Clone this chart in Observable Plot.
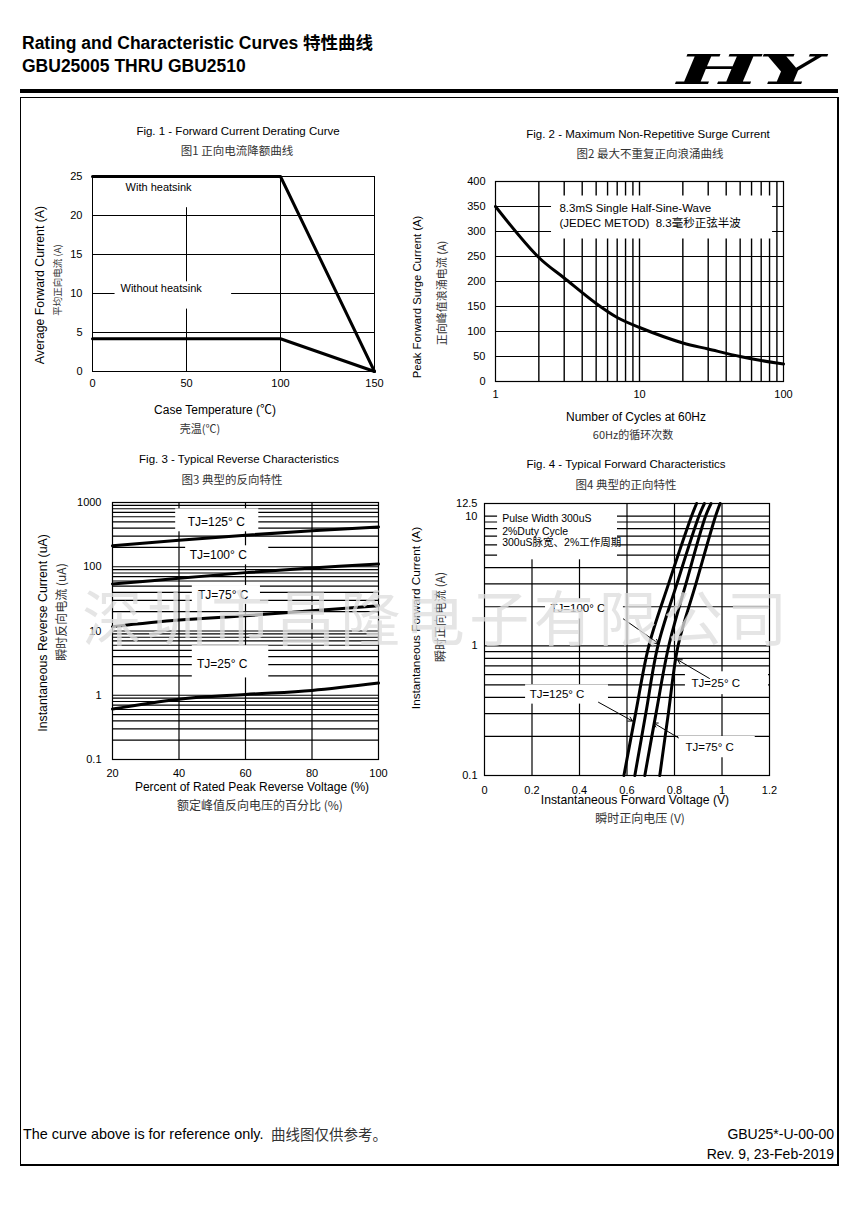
<!DOCTYPE html>
<html><head><meta charset="utf-8">
<script src="https://cdn.jsdelivr.net/npm/d3@7"></script>
<script src="https://cdn.jsdelivr.net/npm/@observablehq/plot@0.6"></script>
<style>
body{margin:0;background:#fff;}
#page{position:relative;width:855px;height:1209px;overflow:hidden;font-family:"Liberation Sans",Arial,"Noto Sans CJK SC",sans-serif;color:#000;background:#fff;}
.abs{position:absolute;white-space:nowrap;line-height:1;}
.cn{font-family:"Noto Sans CJK SC",sans-serif;color:#333;}
</style></head>
<body><div id="page"></div>
<script>
// ---------------- DATA ----------------
// Fig. 1 – Forward Current Derating Curve
const fig1Temp = [0, 100, 150];
const fig1WithHeatsink = [25, 25, 0];
const fig1WithoutHeatsink = [4.2, 4.2, 0];
const fig1XTicks = [0, 50, 100, 150];
const fig1YTicks = [0, 5, 10, 15, 20, 25];
const fig1GridX = [50, 100];
const fig1GridY = [5, 10, 15, 20];
const fig1Labels = [{text: "With heatsink", x: 17.6, y: 23.6}, {text: "Without heatsink", x: 14.9, y: 10.6}];
const fig1Boxes = [{x1: 10, x2: 65, y1: 21, y2: 25}, {x1: 12, x2: 74, y1: 8, y2: 11.5}];

// Fig. 2 – Maximum Non-Repetitive Surge Current
const fig2Cycles = [1, 2, 3, 5, 7, 10, 20, 30, 50, 70, 100];
const fig2Surge = [350, 248, 207, 156, 128, 108, 77, 65, 50, 42, 35];
const fig2XTicks = [1, 10, 100];
const fig2YTicks = [0, 50, 100, 150, 200, 250, 300, 350, 400];
const fig2GridX = [2, 3, 4, 5, 6, 7, 8, 9, 10, 20, 30, 40, 50, 60, 70, 80, 90];
const fig2GridY = [50, 100, 150, 200, 250, 300, 350];
const fig2Labels = [{text: "8.3mS Single Half-Sine-Wave", x: 2.78, y: 346}, {text: "(JEDEC METOD)  8.3毫秒正弦半波", x: 2.78, y: 317}];
const fig2Boxes = [{x1: 2.45, x2: 84, y1: 285, y2: 371}];

// Fig. 3 – Typical Reverse Characteristics
const fig3Voltage = [20, 40, 60, 80, 100];
const fig3Tj125 = [212, 259, 310, 362, 415];
const fig3Tj100 = [54, 66, 81, 96, 110];
const fig3Tj75 = [11.7, 14.8, 17.3, 20.7, 24.8];
const fig3Tj25 = [0.61, 0.87, 1.03, 1.19, 1.55];
const fig3XTicks = [20, 40, 60, 80, 100];
const fig3YTicks = [0.1, 1, 10, 100, 1000];
const fig3GridX = [40, 60, 80];
const fig3GridY = [0.2, 0.3, 0.4, 0.5, 0.6, 0.7, 0.8, 0.9, 1, 2, 3, 4, 5, 6, 7, 8, 9, 10,
  20, 30, 40, 50, 60, 70, 80, 90, 100, 200, 300, 400, 500, 600, 700, 800, 900];
const fig3Labels = [
  {text: "TJ=125° C", x: 42.6, y: 501}, {text: "TJ=100° C", x: 43.2, y: 154},
  {text: "TJ=75° C", x: 45.7, y: 36.4}, {text: "TJ=25° C", x: 45.4, y: 3.0}];
const fig3Boxes = [
  {x1: 39, x2: 64, y1: 350, y2: 795}, {x1: 42, x2: 67, y1: 107, y2: 212},
  {x1: 44, x2: 64.5, y1: 26, y2: 51}, {x1: 44, x2: 67, y1: 1.86, y2: 5.9}];

// Fig. 4 – Typical Forward Characteristics
const fig4Current = [0.1, 0.3, 1, 3, 10, 12.5];
const fig4Tj125 = [0.587, 0.636, 0.692, 0.775, 0.872, 0.893];
const fig4Tj100 = [0.633, 0.679, 0.730, 0.810, 0.903, 0.926];
const fig4Tj75 = [0.675, 0.722, 0.776, 0.848, 0.931, 0.954];
const fig4Tj25 = [0.738, 0.774, 0.815, 0.890, 0.973, 0.992];
const fig4XTicks = [0, 0.2, 0.4, 0.6, 0.8, 1, 1.2];
const fig4YTicks = [0.1, 1, 10, 12.5];
const fig4GridX = [0.2, 0.4, 0.6, 0.8, 1.0];
const fig4GridY = [0.2, 0.3, 0.4, 0.5, 0.6, 0.7, 0.8, 0.9, 1, 2, 3, 4, 5, 6, 7, 8, 9, 10];
const fig4Notes = [
  {text: "Pulse Width 300uS", x: 0.0745, y: 9.5}, {text: "2%Duty Cycle", x: 0.0745, y: 7.64},
  {text: "300uS脉宽、2%工作周期", x: 0.0745, y: 6.22}];
const fig4Labels = [
  {text: "TJ=100° C", x: 0.278, y: 1.93}, {text: "TJ=125° C", x: 0.19, y: 0.42},
  {text: "TJ=25° C", x: 0.872, y: 0.515}, {text: "TJ=75° C", x: 0.846, y: 0.164}];
const fig4Boxes = [
  {x1: 0.055, x2: 0.56, y1: 4.6, y2: 12.5}, {x1: 0.257, x2: 0.585, y1: 1.61, y2: 2.28},
  {x1: 0.173, x2: 0.522, y1: 0.355, y2: 0.50}, {x1: 0.846, x2: 1.196, y1: 0.42, y2: 0.63},
  {x1: 0.817, x2: 1.14, y1: 0.137, y2: 0.20}];
const fig4Arrows = [
  {x1: 0.585, y1: 1.61, x2: 0.733, y2: 1.04}, {x1: 0.48, y1: 0.367, x2: 0.623, y2: 0.263},
  {x1: 0.817, y1: 0.195, x2: 0.712, y2: 0.254}, {x1: 0.947, y1: 0.56, x2: 0.813, y2: 0.78}];

// ---------------- HELPERS ----------------
const FONT = "'Liberation Sans', Arial, 'Noto Sans CJK SC', sans-serif";
const page = document.getElementById("page");
function mount(opts, area, m) {
  const width = area.x1 - area.x0 + m.l + m.r, height = area.y1 - area.y0 + m.t + m.b;
  const svg = Plot.plot({...opts, width, height, marginLeft: m.l, marginRight: m.r, marginTop: m.t, marginBottom: m.b,
    style: {fontFamily: FONT, fontSize: "11px", color: "#000", background: "transparent", overflow: "visible"}});
  const d = document.createElement("div");
  d.style.cssText = `position:absolute;left:${area.x0 - m.l}px;top:${area.y0 - m.t}px;width:${width}px;height:${height}px`;
  d.appendChild(svg); page.appendChild(d);
  return svg;
}
function label(text, x, y, o = {}) {
  const d = document.createElement("div");
  d.className = "abs" + (o.cn ? " cn" : "");
  d.textContent = text;
  d.style.left = x + "px"; d.style.top = y + "px";
  d.style.fontSize = (o.size || 12) + "px";
  if (o.bold) d.style.fontWeight = "bold";
  if (o.color) d.style.color = o.color;
  const tx = o.anchor === "start" ? "0" : o.anchor === "end" ? "-100%" : "-50%";
  d.style.transform = `translate(${tx},-50%)` + (o.rot ? " rotate(-90deg)" : "");
  page.appendChild(d);
  return d;
}
const series = (xs, ys, s) => xs.map((x, i) => ({x, y: ys[i], s}));
const GRID = {stroke: "black", strokeWidth: 1};
const CURVE = {stroke: "black", strokeWidth: 3};

// ---------------- PAGE CHROME ----------------
label("Rating and Characteristic Curves 特性曲线", 22, 44, {anchor: "start", size: 17.5, bold: true});
label("GBU25005 THRU GBU2510", 22, 67, {anchor: "start", size: 17.5, bold: true});
const logo = document.createElement("div");
logo.className = "abs";
logo.textContent = "HY";
logo.style.cssText += "left:677px;top:46px;font:italic 900 41px 'DejaVu Serif',serif;transform:scaleX(2.15);transform-origin:left top;letter-spacing:-1px;";
page.appendChild(logo);
const bar = document.createElement("div");
bar.style.cssText = "position:absolute;left:20px;top:89px;width:818px;height:4px;background:#000";
page.appendChild(bar);
const box = document.createElement("div");
box.style.cssText = "position:absolute;left:20px;top:97px;width:816px;height:1066px;border:1px solid #000;border-bottom:2px solid #000;border-right:2px solid #000";
page.appendChild(box);

// ---------------- FIG 1 ----------------
mount({
  x: {domain: [0, 150], ticks: fig1XTicks, tickSize: 0, tickPadding: 8, label: null},
  y: {domain: [0, 25], ticks: fig1YTicks, tickSize: 0, tickPadding: 10, label: null},
  marks: [
    Plot.ruleY(fig1GridY, GRID),
    Plot.ruleX(fig1GridX, GRID),
    Plot.rect(fig1Boxes, {x1: "x1", x2: "x2", y1: "y1", y2: "y2", fill: "white"}),
    Plot.frame({stroke: "black", strokeWidth: 1}),
    Plot.line(series(fig1Temp, fig1WithHeatsink, "with"), {x: "x", y: "y", ...CURVE}),
    Plot.line(series(fig1Temp, fig1WithoutHeatsink, "without"), {x: "x", y: "y", ...CURVE}),
    Plot.text(fig1Labels, {x: "x", y: "y", text: "text", textAnchor: "start", fontSize: 11, fill: "black"})
  ]
}, {x0: 92, x1: 374, y0: 176, y1: 371}, {l: 40, r: 20, t: 10, b: 25});
label("Fig. 1 - Forward Current Derating Curve", 238, 132, {size: 11.5});
label("图1 正向电流降额曲线", 237, 151, {cn: true, size: 11.5});
label("Case Temperature (℃)", 215, 410);
label("壳温(℃)", 200, 428, {cn: true, size: 11});
label("Average Forward Current (A)", 40, 285, {rot: true, size: 12.3});
label("平均正向电流 (A)", 58, 280, {rot: true, cn: true, size: 9.5});

// ---------------- FIG 2 ----------------
mount({
  x: {type: "log", domain: [1, 100], ticks: fig2XTicks, tickFormat: d => String(d), tickSize: 0, tickPadding: 9, label: null},
  y: {domain: [0, 400], ticks: fig2YTicks, tickSize: 0, tickPadding: 10, label: null},
  marks: [
    Plot.ruleY(fig2GridY, {...GRID, strokeWidth: 1.2}),
    Plot.ruleX(fig2GridX, {...GRID, strokeWidth: 1.4}),
    Plot.rect(fig2Boxes, {x1: "x1", x2: "x2", y1: "y1", y2: "y2", fill: "white"}),
    Plot.frame({stroke: "black", strokeWidth: 1.2}),
    Plot.line(series(fig2Cycles, fig2Surge, "surge"), {x: "x", y: "y", curve: "catmull-rom", ...CURVE}),
    Plot.text(fig2Labels, {x: "x", y: "y", text: "text", textAnchor: "start", fontSize: 11.5, fill: "black"})
  ]
}, {x0: 495, x1: 783, y0: 181, y1: 381}, {l: 40, r: 20, t: 10, b: 25});
label("Fig. 2 - Maximum Non-Repetitive Surge Current", 648, 135, {size: 11.5});
label("图2  最大不重复正向浪涌曲线", 650, 154, {cn: true, size: 11.5});
label("Number of Cycles at 60Hz", 636, 417);
label("60Hz的循环次数", 633, 434, {cn: true, size: 11});
label("Peak Forward Surge Current (A)", 418, 297, {rot: true, size: 11.3});
label("正向峰值浪涌电流 (A)", 441, 293, {rot: true, cn: true, size: 11});

// ---------------- FIG 3 ----------------
const fig3Data = [
  ...series(fig3Voltage, fig3Tj125, "125"), ...series(fig3Voltage, fig3Tj100, "100"),
  ...series(fig3Voltage, fig3Tj75, "75"), ...series(fig3Voltage, fig3Tj25, "25")];
mount({
  x: {domain: [20, 100], ticks: fig3XTicks, tickSize: 0, tickPadding: 10, label: null},
  y: {type: "log", domain: [0.1, 1000], ticks: fig3YTicks, tickFormat: d => String(d), tickSize: 0, tickPadding: 11, label: null},
  marks: [
    Plot.ruleY(fig3GridY, {...GRID, strokeWidth: 1.2}),
    Plot.ruleX(fig3GridX, {...GRID, strokeWidth: 1.2}),
    Plot.rect(fig3Boxes, {x1: "x1", x2: "x2", y1: "y1", y2: "y2", fill: "white"}),
    Plot.frame({stroke: "black", strokeWidth: 1.2}),
    Plot.line(fig3Data, {x: "x", y: "y", z: "s", curve: "catmull-rom", ...CURVE}),
    Plot.text(fig3Labels, {x: "x", y: "y", text: "text", textAnchor: "start", fontSize: 12, fill: "black"})
  ]
}, {x0: 112, x1: 378, y0: 502, y1: 759}, {l: 45, r: 20, t: 10, b: 25});
label("Fig. 3 - Typical Reverse Characteristics", 239, 460, {size: 11.5});
label("图3  典型的反向特性", 232, 480, {cn: true, size: 11.5});
label("Percent of Rated Peak Reverse Voltage (%)", 252, 787);
label("额定峰值反向电压的百分比 (%)", 260, 805, {cn: true, size: 12});
label("Instantaneous Reverse Current (uA)", 43, 633, {rot: true, size: 12.3});
label("瞬时反向电流 (uA)", 61, 612, {rot: true, cn: true, size: 12});

// ---------------- FIG 4 ----------------
const fig4Data = [
  ...series(fig4Tj125, fig4Current, "125"), ...series(fig4Tj100, fig4Current, "100"),
  ...series(fig4Tj75, fig4Current, "75"), ...series(fig4Tj25, fig4Current, "25")];
mount({
  x: {domain: [0, 1.2], ticks: fig4XTicks, tickFormat: d => String(d), tickSize: 0, tickPadding: 11, label: null},
  y: {type: "log", domain: [0.1, 12.5], ticks: fig4YTicks, tickFormat: d => String(d), tickSize: 0, tickPadding: 7, label: null},
  marks: [
    Plot.ruleY(fig4GridY, {...GRID, strokeWidth: 1.2}),
    Plot.ruleX(fig4GridX, {...GRID, strokeWidth: 1.2}),
    Plot.rect(fig4Boxes, {x1: "x1", x2: "x2", y1: "y1", y2: "y2", fill: "white"}),
    Plot.frame({stroke: "black", strokeWidth: 1.2}),
    Plot.line(fig4Data, {x: "x", y: "y", z: "s", curve: "catmull-rom", ...CURVE}),
    Plot.arrow(fig4Arrows, {x1: "x1", y1: "y1", x2: "x2", y2: "y2", stroke: "black", strokeWidth: 1, headLength: 7}),
    Plot.text(fig4Notes, {x: "x", y: "y", text: "text", textAnchor: "start", fontSize: 10.5, fill: "black"}),
    Plot.text(fig4Labels, {x: "x", y: "y", text: "text", textAnchor: "start", fontSize: 11.5, fill: "black"})
  ]
}, {x0: 484, x1: 769, y0: 503, y1: 775}, {l: 40, r: 20, t: 10, b: 25});
label("Fig. 4 - Typical Forward Characteristics", 626, 465, {size: 11.5});
label("图4  典型的正向特性", 626, 485, {cn: true, size: 11.5});
label("Instantaneous Forward Voltage (V)", 635, 800, {size: 12.2});
label("瞬时正向电压 (V)", 640, 818, {cn: true, size: 12});
label("Instantaneous Forward Current (A)", 417, 618, {rot: true, size: 11.8});
label("瞬时正向电流 (A)", 440, 617, {rot: true, cn: true, size: 12});

// ---------------- FOOTER ----------------
label("The curve above is for reference only.", 23, 1134, {anchor: "start", size: 14.4});
label("曲线图仅供参考。", 271, 1134, {anchor: "start", cn: true, size: 14.5});
label("GBU25*-U-00-00", 834, 1134, {anchor: "end", size: 14});
label("Rev. 9, 23-Feb-2019", 834, 1154, {anchor: "end", size: 14});

// ---------------- WATERMARK ----------------
const wm = label("深圳市昌隆电子有限公司", 437, 615, {cn: true, size: 60});
wm.style.color = "rgba(222,222,222,0.78)";
wm.style.letterSpacing = "4.5px";
wm.style.fontWeight = "400";
</script>
</body></html>
